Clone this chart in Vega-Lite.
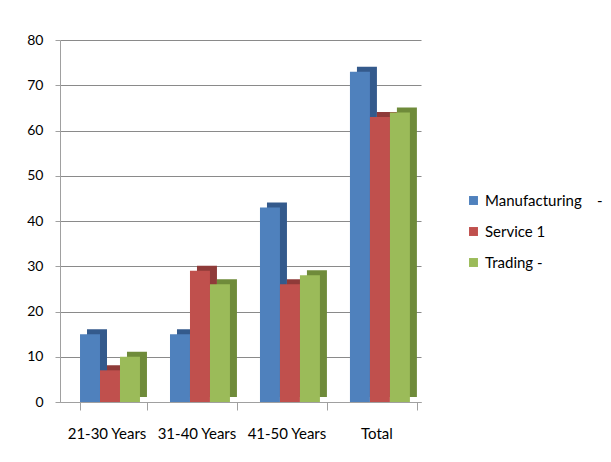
{
  "$schema": "https://vega.github.io/schema/vega-lite/v6.json",
  "width": 361,
  "height": 362,
  "autosize": {"type": "none"},
  "padding": {"left": 60, "top": 40, "right": 190, "bottom": 60},
  "background": "white",
  "data": {
    "values": [
      {"group": "21-30 Years", "series": "Manufacturing\u00a0\u00a0\u00a0\u00a0-", "value": 15},
      {"group": "21-30 Years", "series": "Service 1", "value": 7},
      {"group": "21-30 Years", "series": "Trading -", "value": 10},
      {"group": "31-40 Years", "series": "Manufacturing\u00a0\u00a0\u00a0\u00a0-", "value": 15},
      {"group": "31-40 Years", "series": "Service 1", "value": 29},
      {"group": "31-40 Years", "series": "Trading -", "value": 26},
      {"group": "41-50 Years", "series": "Manufacturing\u00a0\u00a0\u00a0\u00a0-", "value": 43},
      {"group": "41-50 Years", "series": "Service 1", "value": 26},
      {"group": "41-50 Years", "series": "Trading -", "value": 28},
      {"group": "Total", "series": "Manufacturing\u00a0\u00a0\u00a0\u00a0-", "value": 73},
      {"group": "Total", "series": "Service 1", "value": 63},
      {"group": "Total", "series": "Trading -", "value": 64}
    ]
  },
  "encoding": {
    "x": {
      "field": "group",
      "type": "nominal",
      "sort": null,
      "scale": {"paddingInner": 0.256, "paddingOuter": 0.134, "align": 0.83},
      "axis": {
        "title": null,
        "labelAngle": 0,
        "labelFont": "Lato",
        "labelFontSize": 15,
        "labelColor": "#000000",
        "labelPadding": 16,
        "labelOffset": -7,
        "domainColor": "#a0a0a0",
        "tickColor": "#a0a0a0",
        "tickBand": "extent",
        "tickSize": 8
      }
    },
    "y": {
      "field": "value",
      "type": "quantitative",
      "scale": {"domain": [0, 80]},
      "axis": {
        "title": null,
        "values": [0, 10, 20, 30, 40, 50, 60, 70, 80],
        "labelFont": "Lato",
        "labelFontSize": 14,
        "labelColor": "#000000",
        "labelPadding": 12,
        "tickSize": 5,
        "tickColor": "#a0a0a0",
        "domainColor": "#a0a0a0",
        "gridColor": "#8a8a8a",
        "gridWidth": 1.2
      }
    }
  },
  "layer": [
    {
      "mark": {"type": "bar", "yOffset": -5, "y2Offset": -5},
      "encoding": {
        "xOffset": {
          "field": "series",
          "type": "nominal",
          "sort": null,
          "scale": {"paddingInner": 0, "paddingOuter": 0.175, "align": 1}
        },
        "color": {
          "field": "series",
          "type": "nominal",
          "sort": null,
          "scale": {"range": ["#345a8c", "#8f3b39", "#6f8b3a"]},
          "legend": null
        }
      }
    },
    {
      "mark": {"type": "bar"},
      "encoding": {
        "xOffset": {
          "field": "series",
          "type": "nominal",
          "sort": null,
          "scale": {"paddingInner": 0, "paddingOuter": 0.175, "align": 0}
        },
        "color": {
          "field": "series",
          "type": "nominal",
          "sort": null,
          "scale": {"range": ["#4f81bd", "#c0504d", "#9bbb59"]},
          "legend": {
            "title": null,
            "orient": "none",
            "legendX": 406,
            "legendY": 153,
            "symbolType": "square",
            "symbolSize": 80,
            "symbolStrokeWidth": 0,
            "rowPadding": 15,
            "labelFont": "Lato",
            "labelFontSize": 15,
            "labelColor": "#000000"
          }
        }
      }
    }
  ],
  "resolve": {"scale": {"color": "independent", "xOffset": "independent"}},
  "config": {
    "view": {"stroke": null}
  }
}
